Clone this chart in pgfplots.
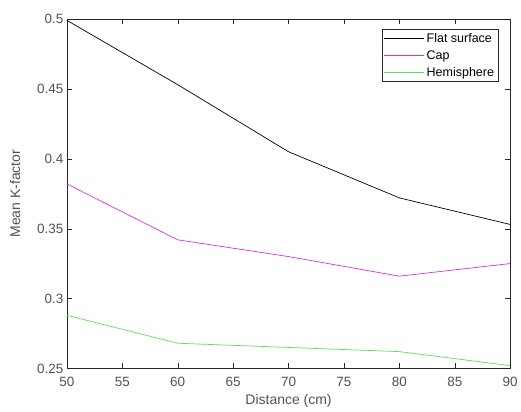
\documentclass[border=0pt]{standalone}
\usepackage{pgfplots}
\pgfplotsset{compat=1.18}
\usepackage{fontspec}
\setmainfont{Liberation Sans}
\definecolor{axgray}{rgb}{0.15,0.15,0.15}
\definecolor{mcap}{rgb}{0.85,0.2,0.85}
\definecolor{mhem}{rgb}{0.35,0.88,0.35}
\begin{document}
\begin{tikzpicture}
\begin{axis}[
  name=ax,
  scale only axis,
  width=444pt, height=350pt,
  xmin=50, xmax=90, ymin=0.25, ymax=0.5,
  xtick={50,55,...,90},
  ytick={0.25,0.3,...,0.5},
  yticklabels={0.25,0.3,0.35,0.4,0.45,0.5},
  tick align=inside,
  major tick length=5pt,
  axis line style={axgray},
  tick style={axgray},
  every tick label/.append style={font=\fontsize{13.5}{15}\selectfont, text=axgray!80},
  xticklabel style={yshift=-5pt},
  /pgf/number format/assume math mode=true,
  xlabel={Distance (cm)},
  ylabel={Mean K-factor},
  label style={font=\fontsize{14}{16}\selectfont, text=axgray!80},
  xlabel style={yshift=-1pt},
  ylabel style={yshift=10pt},
  legend style={at={(0.973,0.971)}, anchor=north east, draw=axgray, font=\fontsize{12.5}{14}\selectfont, row sep=2.5pt, inner sep=2pt},
  legend cell align=left,
  legend image code/.code={\draw[#1] (0pt,0pt) -- (40pt,0pt);},
]
\addplot[black, line width=0.7pt] coordinates {(50,0.499) (60,0.453) (70,0.405) (80,0.372) (90,0.353)};
\addlegendentry{Flat surface}
\addplot[mcap, line width=0.7pt] coordinates {(50,0.382) (60,0.342) (70,0.330) (80,0.316) (90,0.325)};
\addlegendentry{Cap}
\addplot[mhem, line width=0.7pt] coordinates {(50,0.288) (60,0.268) (70,0.265) (80,0.262) (90,0.252)};
\addlegendentry{Hemisphere}
\end{axis}
\useasboundingbox ([shift={(-67pt,-43pt)}]ax.south west) rectangle ([shift={(10pt,19pt)}]ax.north east);
\end{tikzpicture}
\end{document}
